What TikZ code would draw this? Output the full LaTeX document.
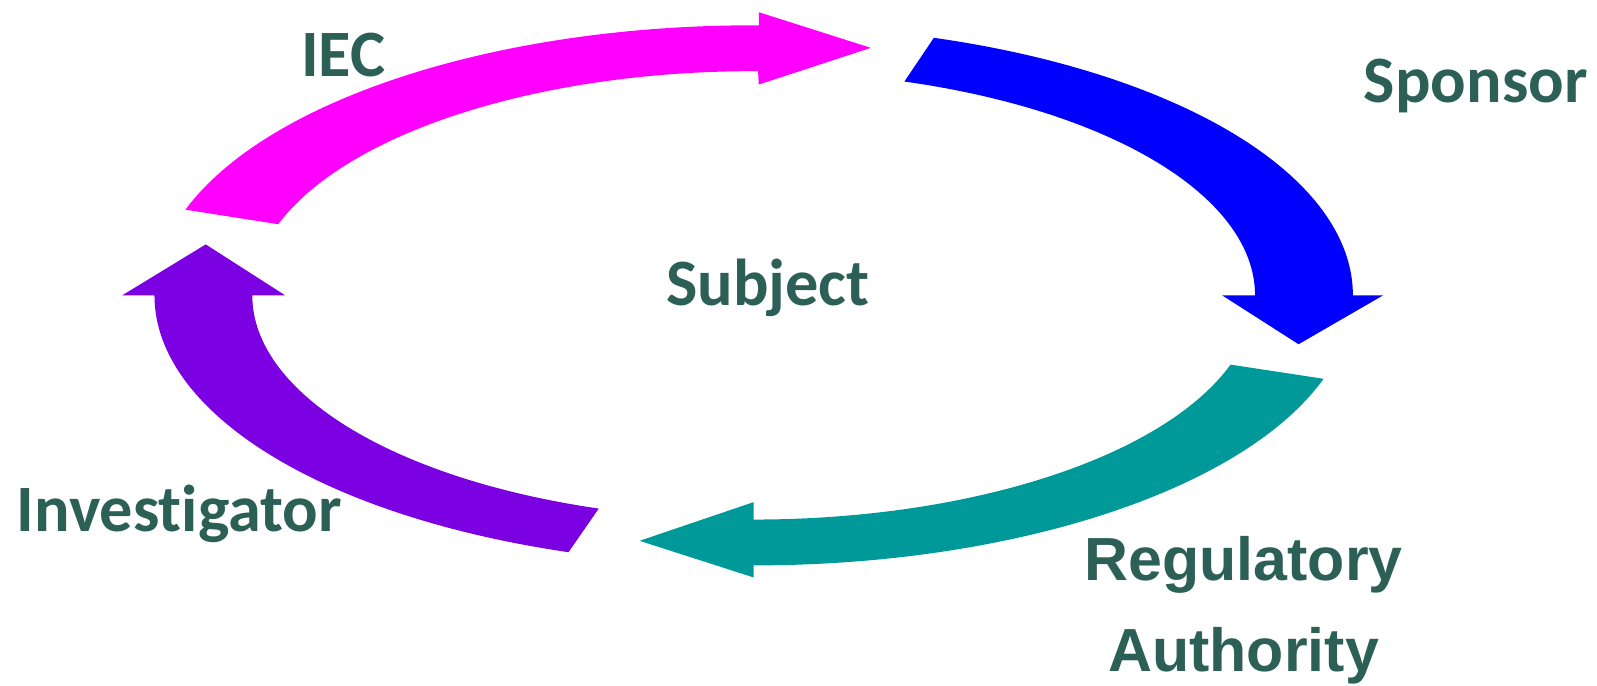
\documentclass[tikz,border=0pt]{standalone}
\usepackage{fontspec}
\setmainfont[Ligatures=NoCommon]{Carlito}
\newfontfamily\arialfont{Liberation Sans}
\usetikzlibrary{calc}
\definecolor{iecpink}{RGB}{255,0,255}
\definecolor{sponsorblue}{RGB}{0,0,255}
\definecolor{regteal}{RGB}{0,153,153}
\definecolor{invpurple}{RGB}{123,0,226}
\definecolor{labelgreen}{RGB}{44,95,85}

\begin{document}
\begin{tikzpicture}[x=0.01cm,y=0.01cm,
    lbl/.style={text=labelgreen,font=\fontsize{18.5}{22}\selectfont\bfseries,anchor=base,inner sep=0pt},
    lblra/.style={text=labelgreen,font=\arialfont\fontsize{17}{20}\selectfont\bfseries,anchor=base,inner sep=0pt}]
    \useasboundingbox (0,0) rectangle (1568,673);
    \coordinate (C) at (740,383);
    % IEC arrow, top
    \fill [iecpink] ($(C)+(161.5:5.88cm and 2.65cm)$) arc[start angle=161.5,end angle=89.5,x radius=5.88cm,y radius=2.65cm]
        -- (745,661) -- (855,626) -- (745,590) -- ($(C)+(89.5:4.92cm and 2.2cm)$)
        arc[start angle=89.5,end angle=161.5,x radius=4.92cm,y radius=2.2cm] -- cycle;
    % Sponsor arrow, right
    \fill [sponsorblue] ($(C)+(72.5:5.88cm and 2.65cm)$) arc[start angle=72.5,end angle=0,x radius=5.88cm,y radius=2.65cm]
        -- (1358,383) -- (1275,335) -- (1200,383) -- ($(C)+(0:4.92cm and 2.2cm)$)
        arc[start angle=0,end angle=72.5,x radius=4.92cm,y radius=2.2cm] -- cycle;
    % Regulatory arrow, bottom
    \fill [regteal] ($(C)+(-18:5.88cm and 2.65cm)$) arc[start angle=-18,end angle=-90,x radius=5.88cm,y radius=2.65cm]
        -- (740,106) -- (628,142) -- (740,180) -- ($(C)+(-90:4.92cm and 2.2cm)$)
        arc[start angle=-90,end angle=-18,x radius=4.92cm,y radius=2.2cm] -- cycle;
    % Investigator arrow, left
    \fill [invpurple] ($(C)+(252:5.88cm and 2.65cm)$) arc[start angle=252,end angle=180,x radius=5.88cm,y radius=2.65cm]
        -- (120,383) -- (202,433) -- (280,383) -- ($(C)+(180:4.92cm and 2.2cm)$)
        arc[start angle=180,end angle=252,x radius=4.92cm,y radius=2.2cm] -- cycle;
    % labels
    \node [lbl] (iec) at (337,598) {IEC};
    \node [lbl] (sponsor) at (1449,572) {Sponsor};
    \node [lbl] (subject) at (754,373) {Subject};
    \node [lbl] (investigator) at (176,151) {Investigator};
    \node [lblra] (regulatory) at (1221,103) {Regulatory};
    \node [lblra] (authority) at (1221,14) {Authority};
\end{tikzpicture}
\end{document}
